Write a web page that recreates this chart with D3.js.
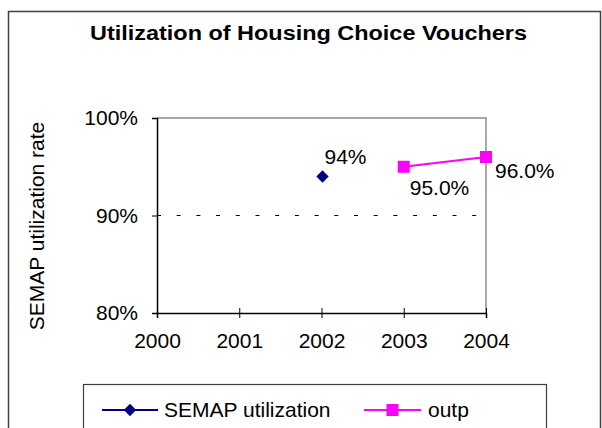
<!DOCTYPE html>
<html><head><meta charset="utf-8">
<script src="https://cdn.jsdelivr.net/npm/d3@7"></script>
<style>body{margin:0;background:#fff}svg{display:block;font-family:"Liberation Sans",Arial,sans-serif}</style>
</head><body><svg id="c" width="602" height="428"></svg>
<script>
const title = "Utilization of Housing Choice Vouchers";
const yTitle = "SEMAP utilization rate";
const years = [2000, 2001, 2002, 2003, 2004];
const yTicks = [0.8, 0.9, 1.0];
const semapYears = [2002];
const semapValues = [0.94];
const semapLabels = ["94%"];
const outpYears = [2003, 2004];
const outpValues = [0.95, 0.96];
const outpLabels = ["95.0%", "96.0%"];
const seriesNames = ["SEMAP utilization", "outp"];

const svg = d3.select("#c");
const L = 157, R = 486, T = 118, B = 313;
const x = d3.scaleLinear().domain([2000, 2004]).range([L, R]);
const y = d3.scaleLinear().domain([0.8, 1.0]).range([B, T]);
const FS = 21;
const FF = "Liberation Sans, Arial, sans-serif";

// outer border
svg.append("rect").attr("x", 8.5).attr("y", 11.5).attr("width", 592).attr("height", 430)
  .attr("fill", "#fff").attr("stroke", "#404040").attr("stroke-width", 1.5);

// title
svg.append("text").attr("x", 90).attr("y", 40)
  .attr("font-size", 20).attr("font-weight", "bold").attr("fill", "#000")
  .attr("textLength", 437).attr("lengthAdjust", "spacingAndGlyphs").text(title);

// plot border top/right (gray)
svg.append("path").attr("d", `M${L},${T}H${R}V${B}`).attr("fill", "none")
  .attr("stroke", "#8c8c8c").attr("stroke-width", 1.5);

// gridline at 90%
svg.append("line").attr("x1", L).attr("x2", R).attr("y1", y(0.9)).attr("y2", y(0.9))
  .attr("stroke", "#000").attr("stroke-dasharray", "4,15.7");

// y axis
const yAxis = svg.append("g").attr("transform", `translate(${L},0)`)
  .call(d3.axisLeft(y).tickValues(yTicks).tickFormat(d3.format(".0%")).tickSizeOuter(0).tickSize(5).tickPadding(14));
yAxis.select(".domain").attr("stroke", "#000").attr("stroke-width", 1.5);
yAxis.selectAll(".tick line").attr("stroke", "#000");
yAxis.selectAll("text").attr("font-size", FS).attr("font-family", FF).attr("fill", "#000");

// x axis
const xAxis = svg.append("g").attr("transform", `translate(0,${B})`)
  .call(d3.axisBottom(x).tickValues(years).tickFormat(d3.format("d")).tickSizeOuter(0).tickSize(5).tickPadding(15));
xAxis.select(".domain").attr("stroke", "#000").attr("stroke-width", 1.5);
xAxis.selectAll(".tick line").attr("stroke", "#000").attr("y1", -5);
xAxis.selectAll("text").attr("font-size", FS).attr("font-family", FF).attr("fill", "#000");

// y title
svg.append("text").attr("transform", `translate(44,226) rotate(-90)`).attr("text-anchor", "middle")
  .attr("font-size", FS).attr("fill", "#000").text(yTitle);

// markers
const diamond = d3.symbol().type(d3.symbolSquare).size(76);
const square = d3.symbol().type(d3.symbolSquare).size(144);

// outp line
const outpData = outpYears.map((yr, i) => ({yr, v: outpValues[i], lab: outpLabels[i]}));
svg.append("path").datum(outpData)
  .attr("d", d3.line().x(d => x(d.yr)).y(d => y(d.v)))
  .attr("fill", "none").attr("stroke", "#ff00ff").attr("stroke-width", 2);
svg.selectAll(".sq").data(outpData).join("path")
  .attr("transform", d => `translate(${x(d.yr)},${y(d.v)})`).attr("d", square).attr("fill", "#ff00ff");

const semapData = semapYears.map((yr, i) => ({yr, v: semapValues[i], lab: semapLabels[i]}));
svg.selectAll(".dm").data(semapData).join("path")
  .attr("d", diamond).attr("fill", "#000080")
  .attr("transform", d => `translate(${x(d.yr) + 1},${y(d.v)}) rotate(45)`);

// data labels
const semapOff = [[3, -13]];
const outpOff = [[6, 28], [9, 21]];
svg.selectAll(".sl").data(semapData).join("text")
  .attr("x", (d, i) => x(d.yr) + semapOff[i][0]).attr("y", (d, i) => y(d.v) + semapOff[i][1])
  .attr("font-size", FS).attr("fill", "#000").text(d => d.lab);
svg.selectAll(".ol").data(outpData).join("text")
  .attr("x", (d, i) => x(d.yr) + outpOff[i][0]).attr("y", (d, i) => y(d.v) + outpOff[i][1])
  .attr("font-size", FS).attr("fill", "#000").text(d => d.lab);

// legend
svg.append("rect").attr("x", 83.5).attr("y", 384.5).attr("width", 463).attr("height", 60)
  .attr("fill", "#fff").attr("stroke", "#404040").attr("stroke-width", 1.2);
const ly = 410;
const leg = [
  {x1: 102, x2: 158, color: "#000080", tx: 164, name: seriesNames[0], diamond: true},
  {x1: 364, x2: 421, color: "#ff00ff", tx: 428, name: seriesNames[1], diamond: false}
];
leg.forEach(l => {
  svg.append("line").attr("x1", l.x1).attr("x2", l.x2).attr("y1", ly).attr("y2", ly)
    .attr("stroke", l.color).attr("stroke-width", 2);
  const m = svg.append("path").attr("fill", l.color);
  if (l.diamond) m.attr("d", diamond).attr("transform", `translate(${(l.x1+l.x2)/2},${ly}) rotate(45)`);
  else m.attr("d", square).attr("transform", `translate(${(l.x1+l.x2)/2},${ly})`);
  svg.append("text").attr("x", l.tx).attr("y", ly + 7).attr("font-size", FS).attr("fill", "#000").text(l.name);
});
</script></body></html>
